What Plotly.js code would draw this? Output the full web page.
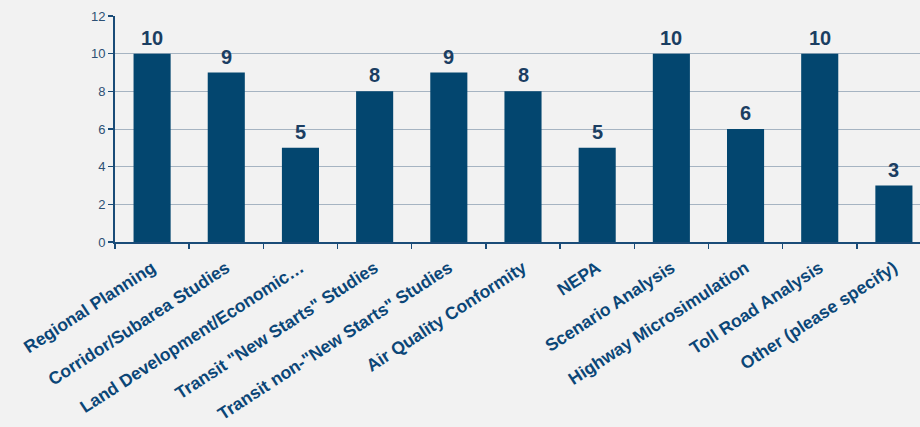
<!DOCTYPE html>
<html><head><meta charset="utf-8">
<script src="https://cdn.plot.ly/plotly-3.0.1.min.js"></script>
<style>html,body{margin:0;padding:0;overflow:hidden;background:#f2f2f2}#chart{width:931px;height:427px}</style>
</head><body><div id="chart"></div>
<script>
const categories = ["Regional Planning","Corridor/Subarea Studies","Land Development/Economic…","Transit \"New Starts\" Studies","Transit non-\"New Starts\" Studies","Air Quality Conformity","NEPA","Scenario Analysis","Highway Microsimulation","Toll Road Analysis","Other (please specify)"];
const counts = [10,9,5,8,9,8,5,10,6,10,3];
const yTicks = [0,2,4,6,8,10,12];

const FONT = "Liberation Sans, Arial, sans-serif";
const trace = {
  type: "bar",
  x: categories,
  y: counts,
  marker: {color: "#03466f", line: {width: 0}},
  hoverinfo: "none"
};
const valueLabels = categories.map((c, i) => ({
  x: c, y: counts[i], xref: "x", yref: "y",
  text: String(counts[i]), showarrow: false,
  yanchor: "bottom", yshift: 3,
  font: {family: FONT, size: 20, color: "#1b3e62", weight: "bold"}
}));
const layout = {
  width: 931, height: 427,
  margin: {l: 115, r: 0, t: 16, b: 185},
  paper_bgcolor: "#f2f2f2",
  plot_bgcolor: "rgba(0,0,0,0)",
  bargap: 0.5,
  showlegend: false,
  font: {family: FONT},
  annotations: valueLabels,
  xaxis: {
    type: "category",
    tickangle: -33,
    tickfont: {family: FONT, size: 17.5, color: "#0b4677", weight: "bold"},
    ticklabelstandoff: 7,
    showline: true, linecolor: "#1a4c78", linewidth: 2,
    ticks: "outside", ticklen: 5, tickcolor: "#1a4c78", tickwidth: 1.5,
    tickson: "boundaries",
    showgrid: false, automargin: false
  },
  yaxis: {
    range: [0, 12], tickvals: yTicks, ticktext: yTicks.map(String),
    tickfont: {family: FONT, size: 13, color: "#2d5074"},
    showline: true, linecolor: "#1a4c78", linewidth: 2,
    ticks: "outside", ticklen: 5, tickcolor: "#1a4c78", tickwidth: 1.5,
    showgrid: true, gridcolor: "#a6b4c2", gridwidth: 1,
    zeroline: false, automargin: false
  }
};
Plotly.newPlot("chart", [trace], layout, {displayModeBar: false, staticPlot: true});
</script></body></html>
